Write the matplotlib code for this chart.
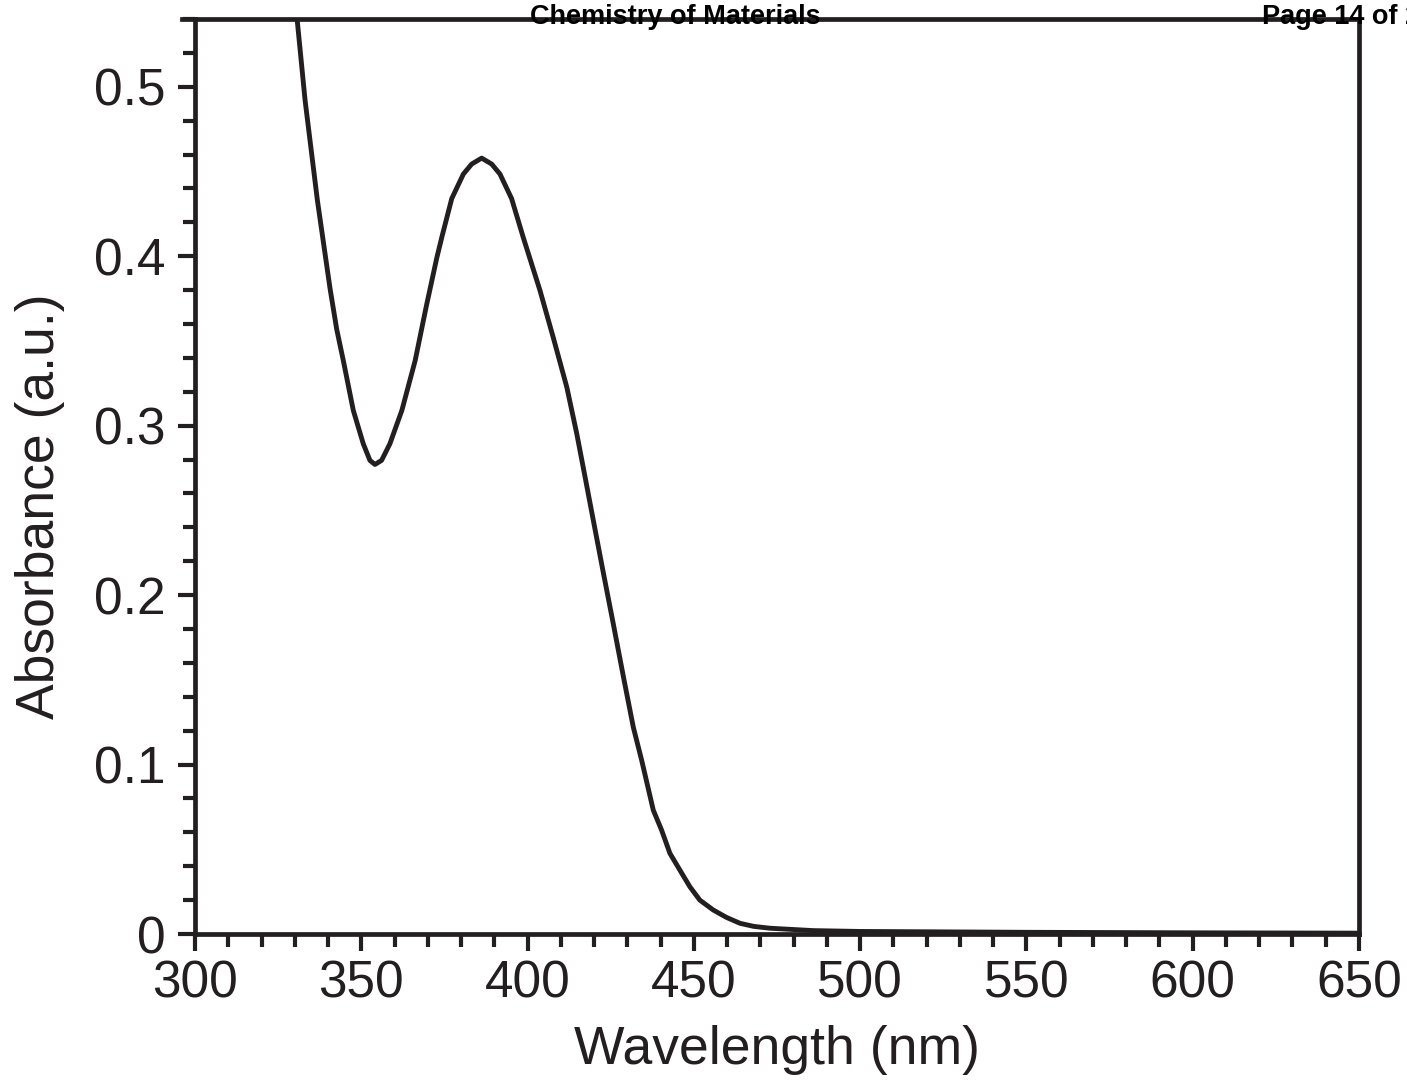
import matplotlib
matplotlib.use('Agg')
import matplotlib.pyplot as plt
from matplotlib.lines import Line2D
from matplotlib.ticker import MultipleLocator

# values
wavelength = [329.0, 330.7, 333.1, 336.8, 340.6, 342.6, 344.6, 347.6, 350.6, 352.6,
              354.1, 356.1, 358.6, 362.2, 366.2, 369.5, 372.7, 374.2, 377.2, 380.7,
              383.2, 386.2, 389.2, 391.7, 395.2, 398.7, 403.7, 407.7, 411.8, 414.8,
              417.3, 419.8, 422.8, 425.8, 428.8, 431.8, 434.3, 437.8, 440.3, 442.8,
              445.8, 448.8, 451.8, 455.8, 459.8, 463.9, 468.0, 472.9, 485.9, 500.0,
              550.0, 600.0, 650.0]
absorbance = [0.575, 0.540, 0.492, 0.433, 0.381, 0.357, 0.3384, 0.3090, 0.2893, 0.2795,
              0.2771, 0.2795, 0.2893, 0.3090, 0.3384, 0.3700, 0.3990, 0.4111, 0.4340, 0.4485,
              0.4544, 0.4579, 0.4544, 0.4485, 0.4340, 0.4111, 0.3800, 0.3522, 0.3227, 0.2952,
              0.2696, 0.2438, 0.2130, 0.1828, 0.1520, 0.1220, 0.1026, 0.0731, 0.0613, 0.0476,
              0.0377, 0.0279, 0.0200, 0.0142, 0.0098, 0.0063, 0.0045, 0.0034, 0.0020, 0.0015,
              0.0010, 0.0007, 0.0005]

ink = '#231f20'
plt.rcParams['font.family'] = ['Liberation Sans', 'DejaVu Sans']

fig = plt.figure(figsize=(14.07, 10.81), dpi=100)
ax = fig.add_axes([195 / 1407, 1 - 934 / 1081, (1359 - 195) / 1407, (934 - 19) / 1081])

ax.plot(wavelength, absorbance, color=ink, lw=3.5, solid_joinstyle='round')
ax.set_xlim(300, 650)
ax.set_ylim(0, 0.54)

ax.xaxis.set_major_locator(MultipleLocator(50))
ax.xaxis.set_minor_locator(MultipleLocator(10))
ax.yaxis.set_minor_locator(MultipleLocator(0.02))
ax.set_yticks([0, 0.1, 0.2, 0.3, 0.4, 0.5])
ax.set_yticklabels(['0', '0.1', '0.2', '0.3', '0.4', '0.5'])

ax.tick_params(which='major', direction='out', length=12.5, width=3, color=ink,
               labelsize=37, labelcolor=ink, pad=6)
ax.tick_params(which='minor', direction='out', length=9, width=3, color=ink)
ax.tick_params(axis='y', which='major', pad=9)
for s in ax.spines.values():
    s.set_linewidth(3.4)
    s.set_color(ink)

ax.set_xlabel('Wavelength (nm)', fontsize=38.5, color=ink, labelpad=12)
ax.set_ylabel('Absorbance (a.u.)', fontsize=38.5, color=ink)
ax.yaxis.set_label_coords(-0.1117, (934 - 506) / 915)

# page header of the source document (cut at the right edge, as in the scan)
fig.add_artist(Line2D([182 / 1407, 195 / 1407], [1 - 19 / 1081] * 2, color=ink, lw=3.4))
hdr = dict(fontsize=19.5, fontweight='bold', color='black', va='baseline')
fig.text(675 / 1407, 1 - 24 / 1081, 'Chemistry of Materials', ha='center', **hdr)
fig.text(1262 / 1407, 1 - 24 / 1081, 'Page 14 of 21', ha='left', fontstretch='condensed', **hdr)

fig.savefig('out.png', dpi=100)
